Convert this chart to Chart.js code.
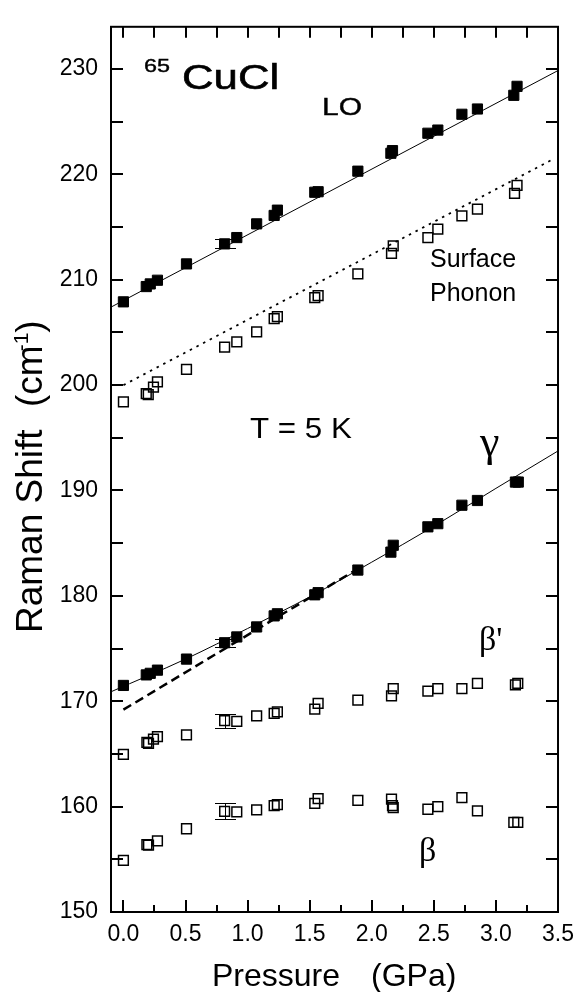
<!DOCTYPE html>
<html>
<head>
<meta charset="utf-8">
<script src="https://cdn.jsdelivr.net/npm/chart.js@4.4.1/dist/chart.umd.min.js"></script>
<style>
  html, body { margin: 0; padding: 0; background: #fff; }
  #wrap { width: 583px; height: 992px; }
</style>
</head>
<body>
<div id="wrap"><canvas id="chart" width="583" height="992"></canvas></div>
<script>
// Pressure (GPa) and Raman shift (cm-1)
const loX = [0.0, 0.184, 0.216, 0.274, 0.508, 0.815, 0.913, 1.073, 1.214, 1.24, 1.541, 1.568, 1.888, 2.154, 2.167, 2.452, 2.532, 2.726, 2.851, 3.144, 3.17];
const loY = [207.9, 209.35, 209.6, 209.95, 211.5, 213.4, 214.0, 215.3, 216.1, 216.6, 218.3, 218.35, 220.3, 222.0, 222.25, 223.9, 224.2, 225.7, 226.2, 227.5, 228.35];

const surfX = [0.0, 0.184, 0.2, 0.242, 0.274, 0.508, 0.815, 0.913, 1.073, 1.214, 1.24, 1.541, 1.568, 1.888, 2.159, 2.173, 2.452, 2.532, 2.726, 2.851, 3.15, 3.17];
const surfY = [198.4, 199.2, 199.1, 199.8, 200.3, 201.5, 203.6, 204.1, 205.05, 206.3, 206.5, 208.3, 208.5, 210.55, 212.5, 213.2, 214.0, 214.8, 216.05, 216.7, 218.2, 218.95];

const gammaX = [0.0, 0.184, 0.216, 0.274, 0.508, 0.815, 0.913, 1.073, 1.214, 1.24, 1.541, 1.568, 1.888, 2.154, 2.173, 2.452, 2.532, 2.726, 2.851, 3.157, 3.18];
const gammaY = [171.5, 172.5, 172.65, 172.95, 174.0, 175.55, 176.1, 177.05, 178.1, 178.3, 180.1, 180.3, 182.45, 184.15, 184.8, 186.55, 186.85, 188.6, 189.05, 190.8, 190.8];

const betaPX = [0.0, 0.189, 0.202, 0.242, 0.274, 0.508, 0.815, 0.913, 1.073, 1.214, 1.24, 1.541, 1.568, 1.888, 2.159, 2.173, 2.452, 2.532, 2.726, 2.851, 3.157, 3.176];
const betaPY = [164.95, 166.1, 166.0, 166.4, 166.65, 166.8, 168.15, 168.1, 168.6, 168.85, 169.0, 169.25, 169.8, 170.1, 170.5, 171.2, 170.95, 171.2, 171.2, 171.7, 171.55, 171.7];

const betaX = [0.0, 0.189, 0.202, 0.274, 0.508, 0.815, 0.913, 1.073, 1.214, 1.24, 1.541, 1.568, 1.888, 2.159, 2.167, 2.173, 2.452, 2.532, 2.726, 2.851, 3.144, 3.176];
const betaY = [154.9, 156.4, 156.35, 156.75, 157.9, 159.55, 159.5, 159.7, 160.1, 160.2, 160.3, 160.75, 160.6, 160.7, 160.1, 159.9, 159.75, 160.0, 160.85, 159.6, 158.5, 158.5];

// fit lines
const loFitX = [-0.1, 3.5];
const loFitY = [207.4, 229.85];
const surfFitX = [0.0, 3.47];
const surfFitY = [200.0, 221.5];
const gammaFitX = [-0.1, 0.5, 1.0, 1.5, 2.0, 2.5, 3.0, 3.5];
const gammaFitY = [170.9, 174.0, 176.9, 179.9, 183.2, 186.6, 190.2, 193.75];
const gammaDashX = [0.0, 1.85];
const gammaDashY = [169.2, 182.3];

// error bars at 0.815 GPa
const errX = [0.815, 0.815, 0.815, 0.815];
const errLow = [213.0, 175.15, 167.5, 158.8];
const errHigh = [213.85, 175.95, 168.8, 160.3];

// ticks
const xTickValues = [0, 0.25, 0.5, 0.75, 1, 1.25, 1.5, 1.75, 2, 2.25, 2.5, 2.75, 3, 3.25, 3.5];
const xLabelValues = [0, 0.5, 1, 1.5, 2, 2.5, 3, 3.5];
const xLabels = ['0.0', '0.5', '1.0', '1.5', '2.0', '2.5', '3.0', '3.5'];
const yTickValues = [150, 155, 160, 165, 170, 175, 180, 185, 190, 195, 200, 205, 210, 215, 220, 225, 230];
const yLabelValues = [150, 160, 170, 180, 190, 200, 210, 220, 230];
const yLabels = ['150', '160', '170', '180', '190', '200', '210', '220', '230'];

const SANS = '"Liberation Sans", Arial, sans-serif';
const SERIF = '"Liberation Serif", "Times New Roman", serif';

const toPts = (xs, ys) => xs.map((x, i) => ({ x: x, y: ys[i] }));

function pointSet(xs, ys, filled) {
  return {
    data: toPts(xs, ys),
    showLine: false,
    pointStyle: 'rect',
    pointRadius: filled ? 7.2 : 6.9,
    pointHoverRadius: filled ? 7.2 : 6.9,
    pointBackgroundColor: filled ? '#000' : 'rgba(0,0,0,0)',
    pointBorderColor: '#000',
    pointBorderWidth: filled ? 1 : 1.5,
    order: 0
  };
}

function lineSet(xs, ys, width, dash, tension) {
  return {
    data: toPts(xs, ys),
    showLine: true,
    borderColor: '#000',
    borderWidth: width,
    borderDash: dash,
    pointRadius: 0,
    pointHoverRadius: 0,
    tension: tension || 0,
    cubicInterpolationMode: tension ? 'monotone' : 'default',
    order: 1
  };
}

function seg(ctx, x1, y1, x2, y2) {
  ctx.beginPath();
  ctx.moveTo(x1, y1);
  ctx.lineTo(x2, y2);
  ctx.stroke();
}

// heavy = outline width for a slightly bolder look
function drawText(ctx, txt, x, y, font, sx, heavy) {
  ctx.save();
  ctx.font = font;
  ctx.translate(x, y);
  ctx.scale(sx || 1, 1);
  ctx.fillText(txt, 0, 0);
  if (heavy) {
    ctx.lineWidth = heavy;
    ctx.strokeStyle = '#000';
    ctx.strokeText(txt, 0, 0);
  }
  ctx.restore();
}

// error bars go under the squares
const errorBarPlugin = {
  id: 'errorBars',
  beforeDatasetsDraw(chart) {
    const { ctx, scales: { x, y } } = chart;
    ctx.save();
    ctx.strokeStyle = '#000';
    ctx.lineWidth = 1;
    errX.forEach((v, i) => {
      const px = Math.round(x.getPixelForValue(v)) + 0.5;
      const lo = Math.round(y.getPixelForValue(errLow[i])) + 0.5;
      const hi = Math.round(y.getPixelForValue(errHigh[i])) + 0.5;
      seg(ctx, px, lo, px, hi);
      seg(ctx, px - 10.5, lo, px + 10.5, lo);
      seg(ctx, px - 10.5, hi, px + 10.5, hi);
    });
    ctx.restore();
  }
};

// frame, inward ticks and the text in the figure
const framePlugin = {
  id: 'frame',
  afterDraw(chart) {
    const { ctx, chartArea: a, scales: { x, y } } = chart;
    ctx.save();
    ctx.strokeStyle = '#000';
    ctx.lineWidth = 2;
    xTickValues.forEach(v => {
      const px = Math.round(x.getPixelForValue(v));
      const major = xLabelValues.indexOf(v) >= 0;
      seg(ctx, px, a.bottom, px, a.bottom - (major ? 12 : 7));
      seg(ctx, px, a.top, px, a.top + 11);
    });
    yTickValues.forEach(v => {
      const py = Math.round(y.getPixelForValue(v));
      seg(ctx, a.left, py, a.left + 12, py);
      seg(ctx, a.right, py, a.right - 12, py);
    });
    ctx.strokeRect(a.left, a.top, a.right - a.left, a.bottom - a.top);

    ctx.fillStyle = '#000';
    ctx.textBaseline = 'alphabetic';
    ctx.textAlign = 'left';
    drawText(ctx, '65', 144, 72, '18px ' + SANS, 1.3, 0.4);
    drawText(ctx, 'CuCl', 182, 89, '35px ' + SANS, 1.25, 0.6);
    drawText(ctx, 'LO', 322, 115, '24px ' + SANS, 1.25, 0.4);
    drawText(ctx, 'Surface', 430, 267, '25px ' + SANS, 1);
    drawText(ctx, 'Phonon', 430, 301, '25px ' + SANS, 1);
    drawText(ctx, 'T = 5 K', 250, 438, '29px ' + SANS, 1.08);
    drawText(ctx, '\u03B3', 480, 456, '44px ' + SERIF, 1);
    drawText(ctx, '\u03B2\'', 479, 650, '34px ' + SERIF, 1);
    drawText(ctx, '\u03B2', 419, 861, '34px ' + SERIF, 1);

    // axis titles
    drawText(ctx, 'Pressure', 212, 986, '32px ' + SANS, 1);
    drawText(ctx, '(GPa)', 371, 986, '32px ' + SANS, 1);

    ctx.save();
    ctx.translate(42, 633);
    ctx.rotate(-Math.PI / 2);
    ctx.font = '37px ' + SANS;
    ctx.fillText('Raman Shift', 0, 0);
    ctx.fillText('(cm', 226, 0);
    let u = 226 + ctx.measureText('(cm').width;
    ctx.font = '21px ' + SANS;
    ctx.fillText('-1', u - 6, -14);
    u += ctx.measureText('-1').width - 6;
    ctx.font = '37px ' + SANS;
    ctx.fillText(')', u, 0);
    ctx.restore();

    ctx.restore();
  }
};

new Chart(document.getElementById('chart'), {
  type: 'scatter',
  data: {
    datasets: [
      pointSet(loX, loY, true),
      pointSet(surfX, surfY, false),
      pointSet(gammaX, gammaY, true),
      pointSet(betaPX, betaPY, false),
      pointSet(betaX, betaY, false),
      lineSet(loFitX, loFitY, 1, []),
      lineSet(surfFitX, surfFitY, 1.8, [2.5, 5]),
      lineSet(gammaFitX, gammaFitY, 1, [], 0.4),
      lineSet(gammaDashX, gammaDashY, 2.5, [9, 5])
    ]
  },
  options: {
    responsive: false,
    devicePixelRatio: 1,
    animation: false,
    layout: { padding: { left: 0, right: 24, top: 10, bottom: 0 } },
    plugins: {
      legend: { display: false },
      tooltip: { enabled: false }
    },
    scales: {
      x: {
        type: 'linear',
        min: -0.1,
        max: 3.5,
        afterBuildTicks: s => { s.ticks = xTickValues.map(v => ({ value: v })); },
        afterFit: s => { s.height = 80; },
        grid: { display: false, drawTicks: false },
        border: { display: false },
        ticks: {
          autoSkip: false,
          maxRotation: 0,
          padding: 9,
          color: '#000',
          font: { family: SANS, size: 23 },
          callback: v => {
            const i = xLabelValues.indexOf(v);
            return i >= 0 ? xLabels[i] : '';
          }
        }
      },
      y: {
        type: 'linear',
        min: 150,
        max: 234,
        afterBuildTicks: s => { s.ticks = yTickValues.map(v => ({ value: v })); },
        afterFit: s => { s.width = 111; },
        grid: { display: false, drawTicks: false },
        border: { display: false },
        ticks: {
          autoSkip: false,
          padding: 13,
          color: '#000',
          font: { family: SANS, size: 23 },
          callback: v => {
            const i = yLabelValues.indexOf(v);
            return i >= 0 ? yLabels[i] : '';
          }
        }
      }
    }
  },
  plugins: [errorBarPlugin, framePlugin]
});
</script>
</body>
</html>
